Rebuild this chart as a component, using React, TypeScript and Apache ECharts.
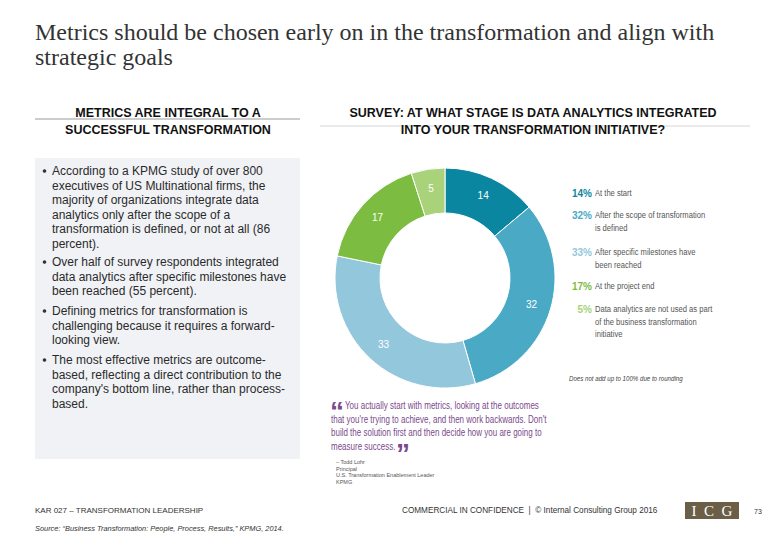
import React, { useEffect, useRef } from "react";
import * as echarts from "echarts";

// ---- Data ----
const stageNames: string[] = [
  "At the start",
  "After the scope of transformation\nis defined",
  "After specific milestones have\nbeen reached",
  "At the project end",
  "Data analytics are not used as part\nof the business transformation\ninitiative",
];
const stageValues: number[] = [14, 32, 33, 17, 5];
const stageColors: string[] = ["#0b86a0", "#4aaac5", "#93c7dc", "#7cbd41", "#a9d27b"];

const titleLines: string[] = [
  "Metrics should be chosen early on in the transformation and align with",
  "strategic goals",
];
const leftHeading: string[] = ["METRICS ARE INTEGRAL TO A", "SUCCESSFUL TRANSFORMATION"];
const rightHeading: string[] = [
  "SURVEY: AT WHAT STAGE IS DATA ANALYTICS INTEGRATED",
  "INTO YOUR TRANSFORMATION INITIATIVE?",
];
const bullets: string[][] = [
  [
    "According to a KPMG study of over 800",
    "executives of US Multinational firms, the",
    "majority of organizations integrate data",
    "analytics only after the scope of a",
    "transformation is defined, or not at all (86",
    "percent).",
  ],
  [
    "Over half of survey respondents integrated",
    "data analytics after specific milestones have",
    "been reached (55 percent).",
  ],
  [
    "Defining metrics for transformation is",
    "challenging because it requires a forward-",
    "looking view.",
  ],
  [
    "The most effective metrics are outcome-",
    "based, reflecting a direct contribution to the",
    "company's bottom line, rather than process-",
    "based.",
  ],
];
const quoteLines: string[] = [
  "You actually start with metrics, looking at the outcomes",
  "that you're trying to achieve, and then work backwards. Don't",
  "build the solution first and then decide how you are going to",
  "measure success.",
];
const attribution: string[] = [
  "– Todd Lohr",
  "Principal",
  "U.S. Transformation Enablement Leader",
  "KPMG",
];
const roundingNote = "Does not add up to 100% due to rounding";
const footerLeft = "KAR 027 – TRANSFORMATION LEADERSHIP";
const footerSource = "Source: \u201CBusiness Transformation: People, Process, Results,\u201D KPMG, 2014.";
const footerRight = "COMMERCIAL IN CONFIDENCE  |  © Internal Consulting Group 2016";
const pageNumber = "73";

const SANS = "Liberation Sans, Arial, sans-serif";
const NARROW = "Liberation Sans Narrow, Liberation Sans, Arial, sans-serif";
const SERIF = "Liberation Serif, Times New Roman, serif";

export default function App() {
  const ref = useRef<HTMLDivElement>(null);

  useEffect(() => {
    if (!ref.current) return;
    const chart = echarts.init(ref.current, undefined, { renderer: "svg" });

    const g: any[] = [];

    // Title
    titleLines.forEach((t, i) => {
      g.push({
        type: "text",
        x: 35,
        y: 32 + i * 25,
        style: { text: t, fontFamily: SERIF, fontSize: 24, fill: "#333", textVerticalAlign: "middle" },
      });
    });

    // Headings
    leftHeading.forEach((t, i) => {
      g.push({
        type: "text",
        x: 168,
        y: 113 + i * 17,
        style: { text: t, fontFamily: SANS, fontSize: 12.5, fontWeight: "bold", fill: "#111", textAlign: "center", textVerticalAlign: "middle" },
      });
    });
    g.push({ type: "line", shape: { x1: 35, y1: 119, x2: 300, y2: 119 }, style: { stroke: "#9a9a9a", lineWidth: 1 }, z: -1 });
    rightHeading.forEach((t, i) => {
      g.push({
        type: "text",
        x: 533,
        y: 113 + i * 17,
        style: { text: t, fontFamily: SANS, fontSize: 12.5, fontWeight: "bold", fill: "#111", textAlign: "center", textVerticalAlign: "middle" },
      });
    });
    g.push({ type: "line", shape: { x1: 320, y1: 126, x2: 750, y2: 126 }, style: { stroke: "#d6d6d6", lineWidth: 1 }, z: -1 });

    // Left panel
    g.push({ type: "rect", shape: { x: 35, y: 158, width: 265, height: 301 }, style: { fill: "#f1f2f6" }, z: -2 });
    const paraStarts = [171, 262, 311, 360];
    bullets.forEach((lines, pi) => {
      const y0 = paraStarts[pi];
      g.push({
        type: "circle",
        shape: { cx: 44.5, cy: y0, r: 1.8 },
        style: { fill: "#333" },
      });
      lines.forEach((l, li) => {
        g.push({
          type: "text",
          x: 52,
          y: y0 + li * 14.5,
          style: { text: l, fontFamily: SANS, fontSize: 12, fill: "#2a2a2a", textVerticalAlign: "middle" },
        });
      });
    });

    // Legend
    const legendY = [193, 215, 252, 286, 309];
    stageValues.forEach((v, i) => {
      g.push({
        type: "text",
        x: 592,
        y: legendY[i],
        style: { text: v + "%", fontFamily: SANS, fontSize: 10, fontWeight: "bold", fill: stageColors[i], textAlign: "right", textVerticalAlign: "middle" },
      });
      stageNames[i].split("\n").forEach((l, li) => {
        g.push({
          type: "text",
          x: 595,
          y: legendY[i] + li * 12.5,
          scaleX: 0.8,
          style: { text: l, fontFamily: NARROW, fontSize: 9.5, fill: "#555", textVerticalAlign: "middle" },
        });
      });
    });
    g.push({
      type: "text",
      x: 569,
      y: 378,
      scaleX: 0.82,
      style: { text: roundingNote, fontFamily: NARROW, fontSize: 7.5, fontStyle: "italic", fill: "#444", textVerticalAlign: "middle" },
    });

    // Quote
    const purple = "#7a4a8c";
    g.push({
      type: "text",
      x: 330,
      y: 411,
      style: { text: "\u201C", fontFamily: SANS, fontSize: 28, fontWeight: "bold", fill: purple, textVerticalAlign: "middle" },
    });
    quoteLines.forEach((l, i) => {
      g.push({
        type: "text",
        x: i === 0 ? 345 : 331,
        y: 406 + i * 13.5,
        scaleX: 0.8,
        style: { text: l, fontFamily: NARROW, fontSize: 10, fill: purple, textVerticalAlign: "middle" },
      });
    });
    g.push({
      type: "text",
      x: 396,
      y: 453,
      style: { text: "\u201D", fontFamily: SANS, fontSize: 28, fontWeight: "bold", fill: purple, textVerticalAlign: "middle" },
    });
    attribution.forEach((l, i) => {
      g.push({
        type: "text",
        x: 336,
        y: 462 + i * 6.5,
        style: { text: l, fontFamily: NARROW, fontSize: 5.5, fill: "#555", textVerticalAlign: "middle" },
      });
    });

    // Footer
    g.push({
      type: "text",
      x: 35,
      y: 510,
      style: { text: footerLeft, fontFamily: SANS, fontSize: 8, fill: "#333", textVerticalAlign: "middle" },
    });
    g.push({
      type: "text",
      x: 35,
      y: 528,
      style: { text: footerSource, fontFamily: SANS, fontSize: 7.4, fontStyle: "italic", fill: "#333", textVerticalAlign: "middle" },
    });
    g.push({
      type: "text",
      x: 402,
      y: 510,
      style: { text: footerRight, fontFamily: SANS, fontSize: 8.2, fill: "#333", textVerticalAlign: "middle" },
    });
    g.push({ type: "rect", shape: { x: 685, y: 502, width: 54, height: 17 }, style: { fill: "#6b5f47" } });
    g.push({
      type: "text",
      x: 712,
      y: 511,
      style: { text: "I  C  G", fontFamily: SERIF, fontSize: 15, fill: "#fff", textAlign: "center", textVerticalAlign: "middle" },
    });
    g.push({
      type: "text",
      x: 758,
      y: 511,
      style: { text: pageNumber, fontFamily: SANS, fontSize: 7, fill: "#333", textAlign: "center", textVerticalAlign: "middle" },
    });

    chart.setOption({
      animation: false,
      backgroundColor: "#ffffff",
      graphic: { elements: g },
      series: [
        {
          type: "pie",
          center: [445, 278],
          radius: [65, 110],
          startAngle: 90,
          clockwise: true,
          silent: true,
          avoidLabelOverlap: false,
          itemStyle: { borderColor: "#ffffff", borderWidth: 1 },
          label: {
            show: true,
            position: "inside",
            color: "#ffffff",
            fontFamily: SANS,
            fontSize: 10,
            formatter: "{c}",
          },
          labelLine: { show: false },
          data: stageValues.map((v, i) => ({
            value: v,
            name: stageNames[i],
            itemStyle: { color: stageColors[i] },
          })),
        },
      ],
    });

    return () => chart.dispose();
  }, []);

  return (
    <div
      ref={ref}
      style={{ position: "absolute", left: 0, top: 0, width: 780, height: 540 }}
    />
  );
}
